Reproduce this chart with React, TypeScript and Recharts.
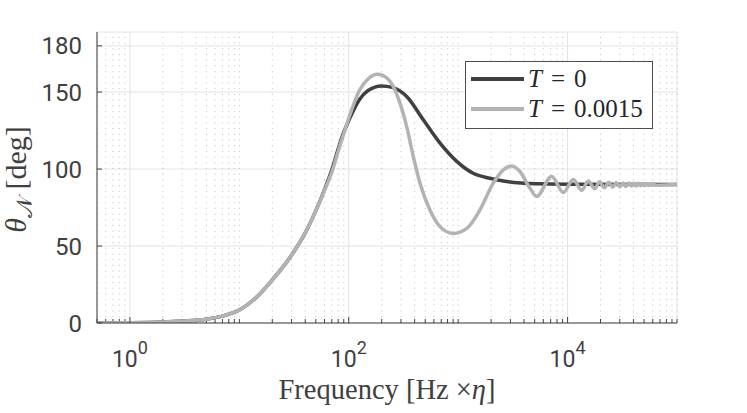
import React from 'react';
import { LineChart, Line, XAxis, YAxis, CartesianGrid, ReferenceLine, Legend } from 'recharts';

// T = 0 series
const freqDark = [0.5, 1, 2, 3, 5, 7, 10, 14, 20, 28, 40, 50, 60, 70, 80, 90, 100, 125, 150, 200, 250, 340, 480, 680, 970, 1370, 1950, 2770, 5200, 10000, 100000];
const thetaDark = [0.05, 0.2, 0.7, 1.3, 2.5, 4.5, 8.4, 16, 28, 41, 58.5, 73, 86.5, 99.5, 113, 124, 131.5, 145, 151, 154, 153, 147, 132, 117, 105, 97.3, 94, 91.9, 90.4, 90.1, 90];

// T = 0.0015 series
const freqLight = [0.5, 1, 2, 3, 5, 7, 10, 14, 20, 28, 40, 50, 60, 70, 80, 90, 100, 125, 150, 185, 238, 294, 338, 389, 448, 552, 682, 900, 1200, 1580, 2090, 2590, 3080, 3670, 4530, 5210, 7160, 9140, 11280, 13450, 15450, 17700, 19600, 21700, 23750, 25800, 27900, 30000, 32050, 34100, 36200, 38300, 40350, 42400, 44500, 46600, 48600, 50700, 52800, 54900, 57000, 59100, 61200, 63300, 100000];
const thetaLight = [0.05, 0.2, 0.7, 1.3, 2.5, 4.5, 8.4, 16, 28, 41, 58.5, 73, 86, 98, 111.5, 123, 133, 151, 158.5, 161.5, 157, 142.8, 127.7, 108.1, 90.8, 73.4, 62.6, 58.2, 61.5, 73.4, 90.8, 99.5, 102, 98.4, 87.5, 82.3, 95.2, 84.8, 93.2, 86.2, 92.2, 87.2, 91.8, 87.8, 91.4, 88.2, 91.2, 88.5, 91.0, 88.7, 90.9, 88.9, 90.8, 89.0, 90.7, 89.1, 90.6, 89.2, 90.5, 89.3, 90.4, 89.4, 90.4, 89.5, 90];

const xTicks = [1, 100, 10000];
const yTicks = [0, 50, 100, 150, 180];
const decades = [0.1, 1, 10, 100, 1000, 10000];
const multipliers = [2, 3, 4, 5, 6, 7, 8, 9, 10];

const seriesNames = ['T = 0', 'T = 0.0015'];
const seriesColors = ['#404040', '#b3b3b3'];

const dataDark = freqDark.map((f, i) => ({ f, v: thetaDark[i] }));
const dataLight = freqLight.map((f, i) => ({ f, v: thetaLight[i] }));

const minorGrid: number[] = [];
decades.forEach((d) => {
  multipliers.forEach((m) => {
    const v = Math.round(d * m * 1000) / 1000;
    if (v >= 0.5 && v <= 100000 && !xTicks.includes(v)) minorGrid.push(v);
  });
});

const tickFont = 'Roboto, "Open Sans", sans-serif';
const serifFont = '"Liberation Serif", "DejaVu Serif", serif';

const XTick = (props: any) => {
  const { x, y, payload } = props;
  const e = Math.round(Math.log10(payload.value));
  return (
    <text x={x} y={y} dy={44} textAnchor="middle" fontFamily={tickFont} fontSize={23} fill="#404040">
      10
      <tspan dy={-13} fontSize={18}>{e}</tspan>
    </text>
  );
};

const XLabel = (props: any) => {
  const vb = props.viewBox || { x: 97, y: 323, width: 580, height: 90 };
  return (
    <text x={vb.x + vb.width / 2} y={vb.y + 76} textAnchor="middle" fontFamily={serifFont} fontSize={28.5} fill="#404040">
      Frequency [Hz ×<tspan fontStyle="italic">η</tspan>]
    </text>
  );
};

const YLabel = (props: any) => {
  const vb = props.viewBox || { x: 0, y: 32, width: 97, height: 291 };
  const cy = vb.y + vb.height / 2 + 2;
  return (
    <text transform={`translate(${vb.x + 26}, ${cy}) rotate(-90)`} textAnchor="middle" fontFamily={serifFont} fontSize={30} fill="#404040">
      <tspan fontStyle="italic">θ</tspan>
      <tspan fontSize={22} dy={6} fontFamily='"DejaVu Serif", "DejaVu Sans", serif'>𝒩</tspan>
      <tspan dy={-6}> [deg]</tspan>
    </text>
  );
};

const LegendBox = () => (
  <div
    style={{
      width: 186,
      height: 64,
      border: '1px solid #4d4d4d',
      background: '#ffffff',
      fontFamily: serifFont,
      fontSize: 25,
      color: '#262626',
      paddingTop: 2,
      boxSizing: 'content-box',
    }}
  >
    {seriesNames.map((name, i) => {
      const [lhs, rhs] = name.split(' = ');
      return (
        <div key={name} style={{ display: 'flex', alignItems: 'center', height: 30, lineHeight: '30px' }}>
          <div style={{ marginLeft: 5, width: 53, height: 4, background: seriesColors[i] }} />
          <div style={{ marginLeft: 4, whiteSpace: 'nowrap' }}>
            <span style={{ fontStyle: 'italic' }}>{lhs}</span>
            <span style={{ margin: '0 9px' }}>=</span>
            <span>{rhs}</span>
          </div>
        </div>
      );
    })}
  </div>
);

export default function App() {
  return (
    <div style={{ position: 'absolute', left: 0, top: 0, width: 747, height: 413, background: '#fff' }}>
      <LineChart width={747} height={413} margin={{ top: 32, right: 70, bottom: 0, left: 0 }}>
        <CartesianGrid stroke="#e3e3e3" strokeWidth={1} />
        {minorGrid.map((v) => (
          <ReferenceLine key={`g${v}`} x={v} stroke="#c8c8c8" strokeDasharray="1.2 4.5" strokeWidth={1} />
        ))}
        {minorGrid.map((v) => (
          <ReferenceLine key={`t${v}`} segment={[{ x: v, y: 0 }, { x: v, y: 2.6 }]} stroke="#404040" strokeWidth={1} />
        ))}
        <XAxis
          dataKey="f"
          type="number"
          scale="log"
          domain={[0.5, 100000]}
          ticks={xTicks}
          interval={0}
          allowDataOverflow
          height={90}
          tickSize={-6}
          tickMargin={6}
          stroke="#404040"
          tick={<XTick />}
          label={<XLabel />}
        />
        <YAxis
          type="number"
          domain={[0, 189]}
          ticks={yTicks}
          interval={0}
          allowDataOverflow
          width={97}
          tickSize={-5}
          tickMargin={20}
          stroke="#404040"
          tick={{ fontFamily: tickFont, fontSize: 24, fill: '#404040' }}
          label={<YLabel />}
        />
        <Legend
          layout="vertical"
          align="center"
          verticalAlign="middle"
          content={<LegendBox />}
          wrapperStyle={{ left: 465, top: 61, width: 'auto', height: 'auto' }}
        />
        <Line data={dataDark} dataKey="v" name={seriesNames[0]} type="monotone" stroke={seriesColors[0]} strokeWidth={3.5} dot={false} isAnimationActive={false} />
        <Line data={dataLight} dataKey="v" name={seriesNames[1]} type="monotone" stroke={seriesColors[1]} strokeWidth={3.5} dot={false} isAnimationActive={false} />
      </LineChart>
    </div>
  );
}
